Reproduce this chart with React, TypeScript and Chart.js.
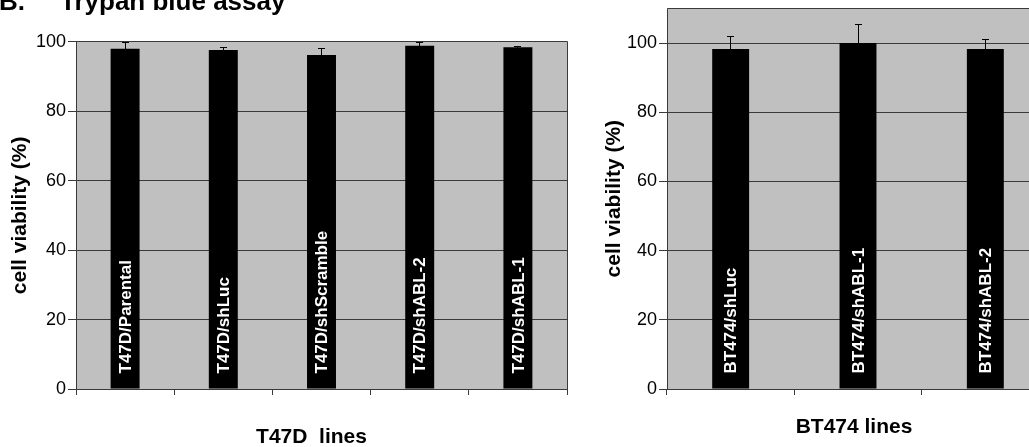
import React, { useEffect, useRef } from 'react';
import { Chart, registerables } from 'chart.js';

Chart.register(...registerables);

const FONT = '"Liberation Sans", Arial, Helvetica, sans-serif';

// ---- data ----
const t47dCategories = ['T47D/Parental', 'T47D/shLuc', 'T47D/shScramble', 'T47D/shABL-2', 'T47D/shABL-1'];
const t47dViability = [98.0, 97.6, 96.2, 98.8, 98.4];
const t47dError = [1.8, 0.7, 1.7, 0.9, 0.2];

const bt474Categories = ['BT474/shLuc', 'BT474/shABL-1', 'BT474/shABL-2'];
const bt474Viability = [98.3, 100, 98.3];
const bt474Error = [3.7, 5.4, 2.7];

const yTickValues = [0, 20, 40, 60, 80, 100];
const yAxisTitle = 'cell viability (%)';
const t47dAxisTitle = 'T47D  lines';
const bt474AxisTitle = 'BT474 lines';
const panelLetter = 'B.';
const panelTitle = 'Trypan blue assay';

const GRID = '#3a3a3a';

function align(px: number) {
  return Math.round(px - 0.5) + 0.5;
}

const plotPlugin = {
  id: 'plotDecor',
  beforeDraw(chart: any) {
    const { ctx, chartArea: a } = chart;
    ctx.save();
    ctx.fillStyle = '#c0c0c0';
    ctx.fillRect(a.left, a.top, a.right - a.left, a.bottom - a.top);
    ctx.restore();
  },
  beforeDatasetsDraw(chart: any) {
    const { ctx, chartArea: a } = chart;
    const l = align(a.left), r = align(a.right), t = align(a.top), b = align(a.bottom);
    ctx.save();
    ctx.strokeStyle = GRID;
    ctx.lineWidth = 1;
    ctx.beginPath();
    ctx.moveTo(l, b); ctx.lineTo(l, t); ctx.lineTo(r, t); ctx.lineTo(r, b); ctx.lineTo(l, b);
    ctx.stroke();
    ctx.restore();
  },
  afterDatasetsDraw(chart: any) {
    const opts = chart.options.plugins.plotDecor;
    const { ctx, chartArea: a } = chart;
    const yScale = chart.scales.y;
    const meta = chart.getDatasetMeta(0);
    const values = chart.data.datasets[0].data as number[];
    const errs = opts.errors as number[];
    ctx.save();
    // error bars
    ctx.strokeStyle = '#000';
    ctx.lineWidth = 1;
    meta.data.forEach((el: any, i: number) => {
      const x = align(el.x);
      const top = yScale.getPixelForValue(values[i] + errs[i]);
      const bot = yScale.getPixelForValue(values[i] - errs[i]);
      ctx.beginPath();
      ctx.moveTo(x, bot); ctx.lineTo(x, top);
      ctx.moveTo(x - opts.cap, align(top)); ctx.lineTo(x + opts.cap, align(top));
      ctx.stroke();
    });
    // labels inside bars
    ctx.fillStyle = '#fff';
    ctx.font = 'bold 17px ' + FONT;
    ctx.textAlign = 'left';
    ctx.textBaseline = 'middle';
    meta.data.forEach((el: any, i: number) => {
      ctx.save();
      ctx.translate(el.x + 1, a.bottom - 15.5);
      ctx.rotate(-Math.PI / 2);
      ctx.fillText(String(chart.data.labels[i]), 0, 0);
      ctx.restore();
    });
    ctx.restore();
  },
  afterDraw(chart: any) {
    const opts = chart.options.plugins.plotDecor;
    const { ctx, chartArea: a } = chart;
    ctx.save();
    ctx.fillStyle = '#000';
    ctx.font = 'bold 21px ' + FONT;
    ctx.textAlign = 'center';
    ctx.textBaseline = 'alphabetic';
    ctx.fillText(opts.xTitle, (a.left + a.right) / 2 + opts.xTitleDx, opts.xTitleBaseline);
    if (opts.header) {
      ctx.font = 'bold 26px ' + FONT;
      ctx.textAlign = 'left';
      ctx.fillText(panelLetter, -1, 9.5);
      ctx.fillText(panelTitle, 60, 9.5);
    }
    ctx.restore();
  },
};

type PanelProps = {
  left: number;
  width: number;
  categories: string[];
  values: number[];
  errors: number[];
  yMax: number;
  top: number;
  rightPad: number;
  yWidth: number;
  titlePad: number;
  barPct: number;
  xTitle: string;
  xTitleDx: number;
  xTitleBaseline: number;
  header: boolean;
};

function Panel(p: PanelProps) {
  const ref = useRef<HTMLCanvasElement | null>(null);
  useEffect(() => {
    if (!ref.current) return;
    const chart = new Chart(ref.current, {
      type: 'bar',
      data: {
        labels: p.categories,
        datasets: [
          {
            data: p.values,
            backgroundColor: '#000',
            borderWidth: 0,
            barPercentage: p.barPct,
            categoryPercentage: 1,
          },
        ],
      },
      options: {
        responsive: false,
        maintainAspectRatio: false,
        devicePixelRatio: 1,
        animation: false,
        layout: { padding: { top: p.top, right: p.rightPad, bottom: 0, left: 0 } },
        plugins: {
          legend: { display: false },
          tooltip: { enabled: false },
          title: { display: false },
          plotDecor: {
            errors: p.errors,
            cap: 3.5,
            xTitle: p.xTitle,
            xTitleDx: p.xTitleDx,
            xTitleBaseline: p.xTitleBaseline,
            header: p.header,
          },
        } as any,
        scales: {
          x: {
            type: 'category',
            offset: true,
            grid: {
              display: true,
              drawOnChartArea: false,
              offset: true,
              drawTicks: true,
              tickLength: 6,
              color: GRID,
              tickColor: GRID,
            },
            border: { display: false },
            ticks: { display: false },
            afterFit: (s: any) => {
              s.height = 58;
              s.paddingLeft = 0;
              s.paddingRight = 0;
            },
          },
          y: {
            type: 'linear',
            min: 0,
            max: p.yMax,
            afterBuildTicks: (s: any) => {
              s.ticks = yTickValues.map((v) => ({ value: v }));
            },
            ticks: {
              color: '#000',
              padding: 2,
              font: { family: FONT, size: 18 },
            },
            grid: {
              color: GRID,
              tickColor: GRID,
              lineWidth: 1,
              drawTicks: true,
              tickLength: 8,
            },
            border: { display: false },
            title: {
              display: true,
              text: yAxisTitle,
              color: '#000',
              font: { family: FONT, size: 21, weight: 'bold', lineHeight: 1 },
              padding: { top: p.titlePad, bottom: 0 },
            },
            afterFit: (s: any) => {
              s.width = p.yWidth;
              s.paddingTop = 0;
              s.paddingBottom = 0;
            },
          },
        },
      } as any,
      plugins: [plotPlugin],
    });
    return () => chart.destroy();
  }, []);
  return (
    <canvas
      ref={ref}
      width={p.width}
      height={447}
      style={{ position: 'absolute', left: p.left, top: 0, width: p.width, height: 447 }}
    />
  );
}

export default function App() {
  return (
    <div
      style={{
        position: 'fixed',
        left: 0,
        top: 0,
        width: 1029,
        height: 447,
        overflow: 'hidden',
        background: '#fff',
      }}
    >
      <Panel
        left={0}
        width={590}
        categories={t47dCategories}
        values={t47dViability}
        errors={t47dError}
        yMax={100}
        top={41.7}
        rightPad={23}
        yWidth={76}
        titlePad={10}
        barPct={0.295}
        xTitle={t47dAxisTitle}
        xTitleDx={-10}
        xTitleBaseline={443.3}
        header={true}
      />
      <Panel
        left={590}
        width={480}
        categories={bt474Categories}
        values={bt474Viability}
        errors={bt474Error}
        yMax={110}
        top={8.4}
        rightPad={21}
        yWidth={77}
        titlePad={14}
        barPct={0.29}
        xTitle={bt474AxisTitle}
        xTitleDx={-4}
        xTitleBaseline={433.3}
        header={false}
      />
    </div>
  );
}
